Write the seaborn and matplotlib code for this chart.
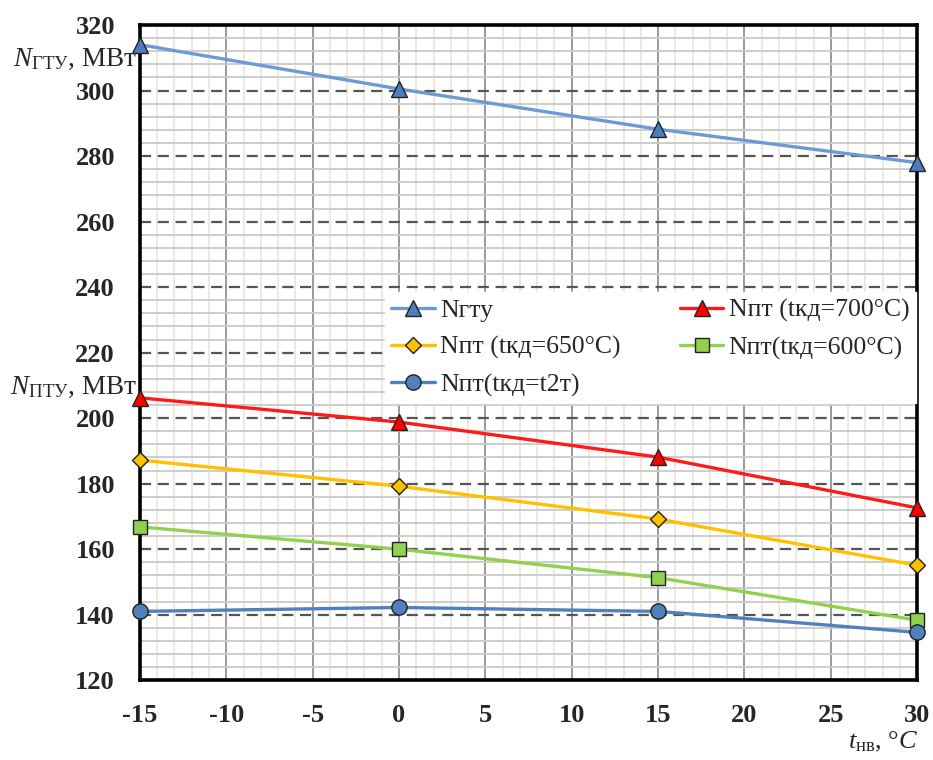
import numpy as np
import pandas as pd
import matplotlib
matplotlib.use("Agg")
import matplotlib.pyplot as plt
import matplotlib.transforms as mtransforms
from matplotlib.ticker import MultipleLocator
import seaborn as sns

# === DATA ===
t_nv = [-15, 0, 15, 30]
n_gtu = [314.0, 300.5, 288.2, 278.0]
n_pt_700 = [206.2, 198.8, 188.1, 172.6]
n_pt_650 = [187.2, 179.2, 169.2, 155.1]
n_pt_600 = [166.8, 160.0, 151.3, 138.3]
n_pt_t2t = [141.0, 142.2, 141.0, 134.6]

series_labels = ["Nгту", "Nпт (tкд=700°C)", "Nпт (tкд=650°C)",
                 "Nпт(tкд=600°C)", "Nпт(tкд=t2т)"]

# === STYLE ===
sns.set_style("white")
plt.rcParams["font.family"] = ["Liberation Serif", "DejaVu Serif"]
plt.rcParams["mathtext.fontset"] = "custom"
plt.rcParams["mathtext.rm"] = "Liberation Serif"
plt.rcParams["mathtext.it"] = "Liberation Serif:italic"
plt.rcParams["axes.unicode_minus"] = False

fig = plt.figure(figsize=(9.33, 7.6), dpi=100)
ax = fig.add_axes([0.150, 0.105, 0.833, 0.862])

styles = [
    (n_gtu, "#6a9bd4", "^", "#4a7ebf", 11.5),
    (n_pt_700, "#ff1a1a", "^", "#ff0000", 11.5),
    (n_pt_650, "#ffc000", "D", "#ffc000", 8.5),
    (n_pt_600, "#92d050", "s", "#92d050", 10),
    (n_pt_t2t, "#4f81bd", "o", "#4f81bd", 11),
]

handles = []
for (vals, lc, mk, mfc, ms), lab in zip(styles, series_labels):
    df = pd.DataFrame({"t": t_nv, "N": vals})
    sns.lineplot(data=df, x="t", y="N", ax=ax, color=lc, linewidth=2.4,
                 marker=mk, markersize=ms, markerfacecolor=mfc,
                 markeredgecolor="#222222", markeredgewidth=1.0,
                 label=lab, zorder=5, clip_on=False)
    handles.append(ax.lines[-1])

# === AXES ===
ax.set_xlim(-15, 30)
ax.set_ylim(120, 320)
ax.xaxis.set_major_locator(MultipleLocator(5))
ax.xaxis.set_minor_locator(MultipleLocator(1))
ax.yaxis.set_major_locator(MultipleLocator(20))
ax.yaxis.set_minor_locator(MultipleLocator(4))

ax.grid(which="minor", axis="x", color="#ece8da", linewidth=1.3, zorder=0)
ax.grid(which="minor", axis="y", color="#c9c9c9", linewidth=1.3, zorder=0)
ax.grid(which="major", axis="x", color="#9a9a9a", linewidth=1.4, zorder=1)
ax.grid(which="major", axis="y", color="#555555", linewidth=1.6,
        linestyle=(0, (5, 3)), zorder=1)
ax.set_axisbelow(True)

for sp in ax.spines.values():
    sp.set_visible(True)
    sp.set_color("black")
    sp.set_linewidth(2.6)

ax.tick_params(which="major", direction="in", length=7, width=2.2,
               color="black", labelsize=19)
ax.tick_params(axis="x", which="major", pad=17)
ax.tick_params(axis="y", which="major", pad=18)
ax.tick_params(which="minor", direction="in", length=4, width=2,
               color="black")
ax.tick_params(top=False, right=False, which="both")
for lbl in ax.get_xticklabels() + ax.get_yticklabels():
    lbl.set_fontweight("bold")

ax.set_xlabel("")
ax.set_ylabel("")

# axis titles placed like in the source
trans = mtransforms.blended_transform_factory(ax.transAxes, ax.transData)
ax.text(-0.004, 309.5, r"$\mathit{N}_{\mathrm{ГТУ}}$, МВт", transform=trans,
        ha="right", va="center", fontsize=19.5)
ax.text(-0.004, 209.5, r"$\mathit{N}_{\mathrm{ПТУ}}$, МВт", transform=trans,
        ha="right", va="center", fontsize=19.5)
fig.text(0.947, 0.024, r"$\mathit{t}_{\mathrm{нв}}$, °$\mathit{C}$",
         ha="center", va="center", fontsize=19)

# === LEGEND ===
order = [0, 2, 4, 1, 3]
leg = ax.legend([handles[i] for i in order], [series_labels[i] for i in order],
                ncol=2, loc="lower left", mode="expand",
                bbox_to_anchor=(0.315, 0.423, 0.683, 0.183),
                frameon=True, fancybox=False, framealpha=1.0,
                edgecolor="white", fontsize=18.5, handlelength=1.7,
                handletextpad=0.2, labelspacing=0.55, borderaxespad=0,
                borderpad=0.25, columnspacing=0.3)
leg.set_zorder(10)

fig.savefig("out.png", dpi=100)
